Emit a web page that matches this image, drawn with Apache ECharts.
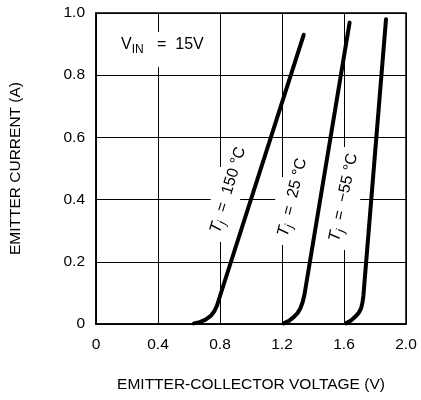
<!DOCTYPE html>
<html>
<head>
<meta charset="utf-8">
<script src="https://cdn.jsdelivr.net/npm/echarts@6/dist/echarts.min.js"></script>
<style>html,body{margin:0;padding:0;background:#fff;}#c{width:421px;height:400px;}</style>
</head>
<body>
<div id="c"></div>
<script>
// ---- data ----
const xTickStep = 0.4;
const yTickStep = 0.2;
const seriesNames = ['Tj = 150 °C', 'Tj = 25 °C', 'Tj = -55 °C'];
const curve150 = [[0.632,0.002],[0.67,0.006],[0.707,0.014],[0.74,0.026],[0.762,0.040],[0.78,0.058],[0.80,0.09],[1.34,0.93]];
const curve25  = [[1.211,0.002],[1.245,0.010],[1.275,0.022],[1.30,0.035],[1.318,0.050],[1.333,0.070],[1.345,0.095],[1.636,0.969]];
const curveM55 = [[1.612,0.002],[1.645,0.011],[1.672,0.023],[1.695,0.036],[1.710,0.050],[1.719,0.068],[1.725,0.090],[1.871,0.98]];
const xTitle = 'EMITTER-COLLECTOR VOLTAGE (V)';
const yTitle = 'EMITTER CURRENT (A)';

const FONT = 'Liberation Sans';
const chart = echarts.init(document.getElementById('c'), null, {renderer:'canvas'});
const fmt = v => (Math.abs(v) < 1e-9 ? '0' : v.toFixed(1));
const lineStyle = {color:'#000', width:4, cap:'round', join:'round'};
chart.setOption({
  animation:false,
  backgroundColor:'#fff',
  grid:{left:95, right:15, top:13, bottom:76, show:true, borderColor:'#000', borderWidth:1.5, backgroundColor:'transparent'},
  xAxis:{type:'value', min:0, max:2, interval:xTickStep,
    name:xTitle, nameLocation:'middle', nameGap:53,
    nameTextStyle:{fontFamily:FONT, fontSize:15.5, color:'#000'},
    axisLine:{show:true, lineStyle:{color:'#000', width:1.5}},
    axisTick:{show:false},
    axisLabel:{formatter:fmt, fontFamily:FONT, fontSize:15.5, color:'#000', margin:13},
    splitLine:{show:true, lineStyle:{color:'#000', width:1}}},
  yAxis:{type:'value', min:0, max:1, interval:yTickStep,
    name:yTitle, nameLocation:'middle', nameGap:72,
    nameTextStyle:{fontFamily:FONT, fontSize:15.5, color:'#000'},
    axisLine:{show:true, lineStyle:{color:'#000', width:1.5}},
    axisTick:{show:false},
    axisLabel:{formatter:fmt, fontFamily:FONT, fontSize:15.5, color:'#000', margin:11},
    splitLine:{show:true, lineStyle:{color:'#000', width:1}}},
  series:[
    {name:seriesNames[0], type:'line', data:curve150, showSymbol:false, lineStyle, z:2},
    {name:seriesNames[1], type:'line', data:curve25, showSymbol:false, lineStyle, z:2},
    {name:seriesNames[2], type:'line', data:curveM55, showSymbol:false, lineStyle, z:2}
  ]
});

// ---- annotations (positions in data units) ----
const gaps = [ // [x0, x1, y0, y1] white patches breaking the grid behind the labels
  [0.74, 0.93, 0.264, 0.505],
  [1.158, 1.35, 0.254, 0.473],
  [1.543, 1.704, 0.238, 0.569],
  [1.158, 1.704, 0.385, 0.415],
  [0.35, 0.46, 0.826, 0.939]
];
const tLabels = [
  {t:'150', at:[0.852, 0.431], deg:73},
  {t:'25',  at:[1.267, 0.407], deg:76},
  {t:'-55', at:[1.597, 0.407], deg:78}
];
const px = p => chart.convertToPixel({gridIndex:0}, p);
const rich = {
  i:{fontFamily:FONT, fontSize:16.5, fontStyle:'italic', color:'#000', verticalAlign:'middle', lineHeight:22},
  s:{fontFamily:FONT, fontSize:12.5, fontStyle:'italic', color:'#000', verticalAlign:'bottom', lineHeight:22},
  n:{fontFamily:FONT, fontSize:16, color:'#000', verticalAlign:'middle', lineHeight:22},
  u:{fontFamily:FONT, fontSize:12, color:'#000', verticalAlign:'bottom', lineHeight:22}
};
const graphics = [];
gaps.forEach(g => {
  const a = px([g[0], g[3]]), b = px([g[1], g[2]]);
  graphics.push({type:'rect', z:1, silent:true, shape:{x:a[0], y:a[1], width:b[0]-a[0], height:b[1]-a[1]}, style:{fill:'#fff'}});
});
tLabels.forEach(L => {
  const c = px(L.at);
  graphics.push({type:'text', z:3, x:c[0], y:c[1], rotation:L.deg*Math.PI/180,
    style:{text:'{i|T}{s|j}{n|  =  ' + L.t.replace('-', '\u2212') + ' °C}', rich, align:'center', verticalAlign:'middle'}});
});
const v = px([0.428, 0.897]);
graphics.push({type:'text', z:3, x:v[0], y:v[1],
  style:{text:'{n|V}{u|IN}{n|   =  15V}', rich, align:'center', verticalAlign:'middle'}});
chart.setOption({graphic:graphics});
</script>
</body>
</html>
